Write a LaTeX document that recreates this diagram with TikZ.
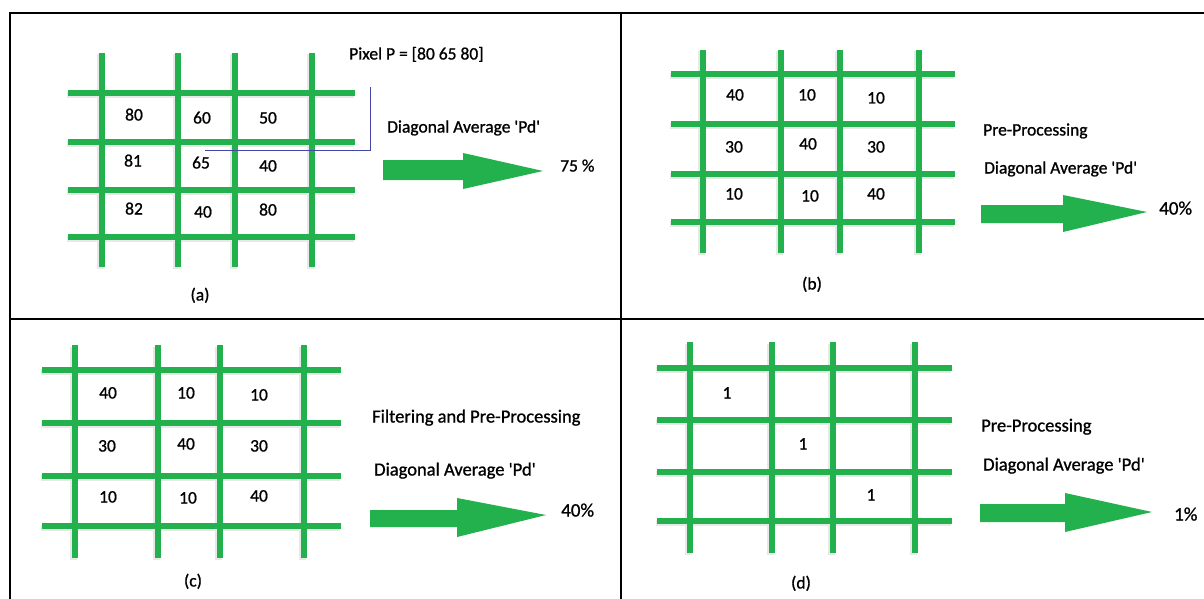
\documentclass[tikz,border=0pt]{standalone}
\usepackage{fontspec}
\setmainfont[FakeBold=1.0]{Carlito}
\newfontfamily\labelfont[FakeBold=1.0]{Carlito}
\definecolor{gridgreen}{RGB}{34,177,76}
\definecolor{linkblue}{RGB}{70,70,170}

% mesh: #1 column xs, #2 top y, #3 bottom y, #4 row ys, #5 left x, #6 right x
\newcommand\drawmesh[6]{%
  \foreach \gy in {#4} {\draw[meshshade] (#5-1,\gy+2) -- (#6-1,\gy+2);}
  \foreach \gx in {#1} {\draw[meshshade] (\gx-1.5,#2+1.5) -- (\gx-1.5,#3+1.5);}
  \foreach \gy in {#4} {\draw[meshline] (#5,\gy) -- (#6,\gy);}
  \foreach \gx in {#1} {\draw[meshline] (\gx,#2) -- (\gx,#3);}
}
% block arrow: #1 start x, #2 head base x, #3 tip x, #4 shaft top, #5 shaft bottom, #6 head top, #7 head bottom, #8 tip y
\newcommand\blockarrow[8]{%
  \fill[gridgreen] (#1,#4) -- (#2,#4) -- (#2,#6) -- (#3,#8) -- (#2,#7) -- (#2,#5) -- (#1,#5) -- cycle;
}
\newcommand\pdq{\textquotesingle Pd\textquotesingle}

\begin{document}
\begin{tikzpicture}[x=1pt,y=-1pt,
  frameline/.style={black,line width=2pt},
  meshline/.style={gridgreen,line width=6.5pt},
  meshshade/.style={black!9,line width=6.5pt},
  val/.style={font=\labelfont\fontsize{17.5}{20}\selectfont,inner sep=0pt,text height=0.7em,text depth=0.2em},
  lbl/.style={val,anchor=west},
  bigger/.style={font=\labelfont\fontsize{18.5}{21}\selectfont},
  pct/.style={font=\labelfont\fontsize{19}{21}\selectfont}]

\useasboundingbox (0,0) rectangle (1204,599);
\fill[white] (0,0) rectangle (1204,599);

% frame
\draw[frameline] (10,599) -- (10,13) -- (1204,13);
\draw[frameline] (621,13) -- (621,599);
\draw[frameline] (10,319) -- (1204,319);

% ---------------- panel (a)
\drawmesh{102,178,235,312}{53}{267}{93,142,190,237}{68}{355}
\node[val] (a11) at (134,118) {80};
\node[val] (a12) at (202,121) {60};
\node[val] (a13) at (268,121) {50};
\node[val] (a21) at (133,164) {81};
\node[val] (a22) at (201,166) {65};
\node[val] (a23) at (268,169) {40};
\node[val] (a31) at (134,212) {82};
\node[val] (a32) at (203,215) {40};
\node[val] (a33) at (268,213) {80};
\coordinate (pa) at (205,150);
\coordinate (pb) at (370,150);
\coordinate (pc) at (370,87);
\draw[linkblue,line width=1pt] (pa) -- (pb) -- (pc);
\node[lbl] (pix) at (349,57) {Pixel P = [80 65 80]};
\node[lbl] (da) at (387,130) {Diagonal Average \pdq};
\blockarrow{383}{463}{543}{160}{180}{153}{189}{171}
\node[lbl] (ra) at (560,169) {75 \%};
\node[val] (capa) at (200,298) {(a)};

% ---------------- panel (b)
\drawmesh{703,781,840,919}{50}{253}{74,124,174,222}{671}{955}
\node[val] (b11) at (735,98) {40};
\node[val] (b12) at (807,98) {10};
\node[val] (b13) at (876,101) {10};
\node[val] (b21) at (734,150) {30};
\node[val] (b22) at (808,147) {40};
\node[val] (b23) at (876,150) {30};
\node[val] (b31) at (734,197) {10};
\node[val] (b32) at (810,199) {10};
\node[val] (b33) at (876,197) {40};
\node[lbl] (pb1) at (983,133) {Pre-Processing};
\node[lbl] (db) at (984,171) {Diagonal Average \pdq};
\blockarrow{981}{1063}{1147}{205}{223}{195}{232}{212}
\node[lbl,pct] (rb) at (1159,212) {40\%};
\node[val] (capb) at (812,287) {(b)};

% ---------------- panel (c)
\drawmesh{75,158,220,304}{345}{558}{370,423,476,526}{42}{341}
\node[val] (c11) at (108,396) {40};
\node[val] (c12) at (186,396) {10};
\node[val] (c13) at (259,398) {10};
\node[val] (c21) at (107,449) {30};
\node[val] (c22) at (186,447) {40};
\node[val] (c23) at (259,449) {30};
\node[val] (c31) at (108,500) {10};
\node[val] (c32) at (188,501) {10};
\node[val] (c33) at (259,499) {40};
\node[lbl,bigger] (fc) at (372,420) {Filtering and Pre-Processing};
\node[lbl,bigger] (dc) at (374,473) {Diagonal Average \pdq};
\blockarrow{370}{457}{546}{510}{527}{498}{537}{515}
\node[lbl,pct] (rc) at (561,514) {40\%};
\node[val] (capc) at (193,584) {(c)};

% ---------------- panel (d)
\drawmesh{690,772,833,915}{342}{553}{368,420,472,521}{657}{952}
\node[val] (d11) at (727,396) {1};
\node[val] (d22) at (803,447) {1};
\node[val] (d33) at (871,498) {1};
\node[lbl,bigger] (pd1) at (981,429) {Pre-Processing};
\node[lbl,bigger] (dd) at (983,468) {Diagonal Average \pdq};
\blockarrow{980}{1065}{1152}{504}{522}{493}{532}{512}
\node[lbl,pct] (rd) at (1174,518) {1\%};
\node[val] (capd) at (801,586) {(d)};

\end{tikzpicture}
\end{document}
